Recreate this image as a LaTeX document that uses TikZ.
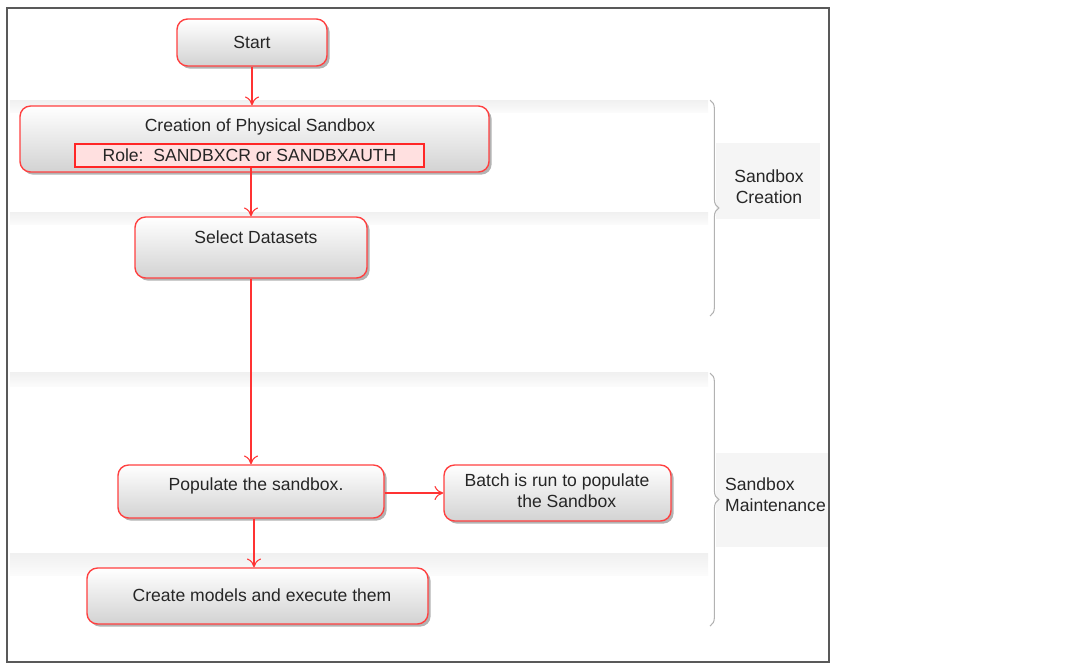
\documentclass[tikz,border=0pt]{standalone}
\usepackage{fontspec}
\setmainfont{Liberation Sans}
\usetikzlibrary{shadows,decorations.pathreplacing,arrows.meta}

\tikzset{
  flowbox/.style={draw=red!75, line width=0.8pt, rounded corners=6pt,
    top color=white, bottom color=gray!35, drop shadow={opacity=0.6,shadow xshift=1.5pt,shadow yshift=-1.5pt},
    inner sep=0pt, font=\fontsize{10}{12}\selectfont, text=black!85},
  boxtext/.style={font=\fontsize{10}{12}\selectfont, text=black!85},
  flowarrow/.style={draw=red!80, line width=0.6pt, -{To[length=5pt,width=8pt]}},
  band/.style={top color=gray!12, bottom color=gray!3, draw=none},
  phaselabel/.style={font=\fontsize{10}{12}\selectfont, align=left, text=black!85},
  phasebrace/.style={draw=gray!60, line width=0.6pt, decorate, decoration={brace, amplitude=5pt}}
}

\begin{document}
\begin{tikzpicture}[x=0.02cm,y=-0.02cm]
\useasboundingbox (0,0) rectangle (1078,667);

% light bands behind the phases
\fill[band] (10,100) rectangle (708,112);
\fill[band] (10,212) rectangle (708,224);
\fill[band] (10,372) rectangle (708,386);
\fill[band] (10,553) rectangle (708,575);
\fill[gray!8] (716,143) rectangle (820,219);
\fill[gray!8] (716,453) rectangle (828,547);

% outer frame
\draw[gray!70!black, line width=0.8pt] (7,8) rectangle (829,662);

% boxes
\node[flowbox, minimum width=150*0.02cm, minimum height=47*0.02cm] (start) at (252,42.5) {Start};
\node[flowbox, minimum width=469*0.02cm, minimum height=66*0.02cm] (creation) at (254.5,139) {};
\node[boxtext] (creationtxt) at (260,127) {Creation of Physical Sandbox};
\node[draw=red!85, line width=0.8pt, fill=red!12, minimum width=349*0.02cm, minimum height=23*0.02cm,
      inner sep=0pt, boxtext] (role) at (249.5,155.5) {Role:\ \ SANDBXCR or SANDBXAUTH};
\node[flowbox, minimum width=232*0.02cm, minimum height=61*0.02cm] (select) at (251,247.5) {};
\node[boxtext] (selecttxt) at (256,237) {Select Datasets};
\node[flowbox, minimum width=266*0.02cm, minimum height=53*0.02cm] (populate) at (251,491.5) {};
\node[boxtext] (populatetxt) at (256,486) {Populate the sandbox.};
\node[flowbox, minimum width=227*0.02cm, minimum height=56*0.02cm] (batch) at (557.5,493) {};
\node[boxtext, align=center] (batchtxt) at (557,491) {Batch is run to populate\\\ \ \ \ the Sandbox};
\node[flowbox, minimum width=341*0.02cm, minimum height=56*0.02cm] (models) at (257.5,596) {};
\node[boxtext] (modelstxt) at (262,595) {Create models and execute them};

% connectors
\draw[flowarrow] (start.south) -- (creation.north -| start.south);
\draw[flowarrow] (role.south -| select.north) -- (select.north);
\draw[flowarrow] (select.south) -- (populate.north -| select.south);
\draw[flowarrow] (populate.east |- batch.west) -- (batch.west);
\draw[flowarrow] ([xshift=3*0.02cm]populate.south) -- ([xshift=3*0.02cm]populate.south |- models.north);

% phase braces
\draw[phasebrace] (710,100) -- (710,316);
\node[phaselabel, align=center] (creationlbl) at (769,186.5) {Sandbox\\Creation};
\draw[phasebrace] (710,373) -- (710,626);
\node[phaselabel, anchor=west] (maintlbl) at (719,494.5) {Sandbox\\Maintenance};
\end{tikzpicture}
\end{document}
